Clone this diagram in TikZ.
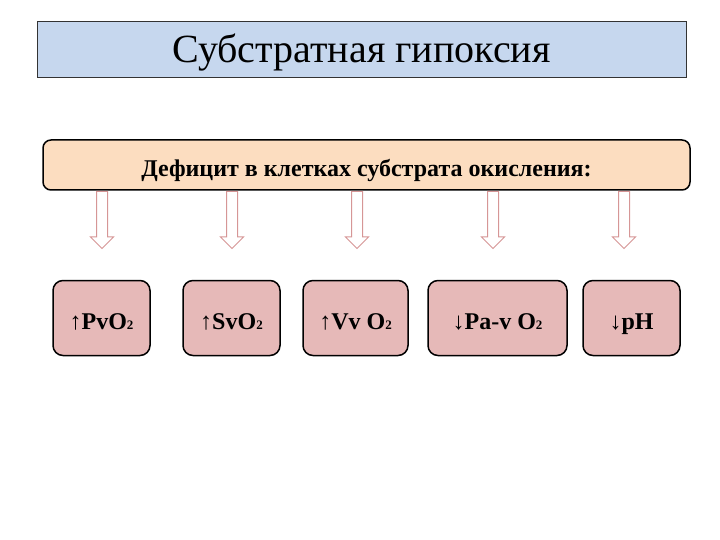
\documentclass[tikz,border=0pt]{standalone}
\usepackage{fontspec}
\setmainfont{Liberation Serif}
\usetikzlibrary{shapes.arrows}
\definecolor{titleblue}{RGB}{198,215,238}
\definecolor{peach}{RGB}{252,221,192}
\definecolor{rose}{RGB}{230,185,184}
\definecolor{arrowpink}{RGB}{214,150,150}
\newcommand{\subtwo}{{\fontsize{13}{13}\selectfont 2}}
\begin{document}
\begin{tikzpicture}
[x=1pt,y=-1pt,
 titlebox/.style={draw=black!80, line width=0.8pt, fill=titleblue,
   minimum width=649pt, minimum height=56pt, inner sep=0pt,
   text height=27pt, text depth=0pt,
   font=\fontsize{40}{46}\selectfont},
 topbox/.style={draw=black, line width=1.5pt, rounded corners=8pt, fill=peach,
   minimum width=647pt, minimum height=50pt, inner sep=0pt,
   text height=24pt, text depth=0pt,
   font=\bfseries\fontsize{24}{28}\selectfont},
 valbox/.style={draw=black, line width=1.5pt, rounded corners=10pt, fill=rose,
   minimum height=75pt, inner sep=0pt, text height=22pt, text depth=0pt,
   font=\bfseries\fontsize{24}{28}\selectfont},
 hollowarrow/.style={single arrow, draw=arrowpink, fill=white, line width=1pt,
   rotate=-90, anchor=tail, inner sep=5pt, minimum height=57pt,
   single arrow head extend=6pt}]
  \useasboundingbox (0,0) rectangle (720,540);
  \node[titlebox] (title) at (361.5,49) {Субстратная гипоксия};
  \node[topbox] (deficit) at (366.5,165) {Дефицит в клетках субстрата окисления:};
  % arrows
  \foreach \x/\n in {102/1,232/2,357/3,493/4,624/5}
    \node[hollowarrow] (ar\n) at (\x,191) {};
  % values
  \node[valbox, minimum width=97pt] (pv) at (101.5,318) {↑PvO\subtwo};
  \node[valbox, minimum width=97pt] (sv) at (231.5,318) {↑SvO\subtwo};
  \node[valbox, minimum width=105pt] (vv) at (355.5,318) {↑Vv O\subtwo};
  \node[valbox, minimum width=139pt] (pav) at (497.5,318) {↓Pa-v O\subtwo};
  \node[valbox, minimum width=97pt] (ph) at (631.5,318) {↓pH};
\end{tikzpicture}
\end{document}
